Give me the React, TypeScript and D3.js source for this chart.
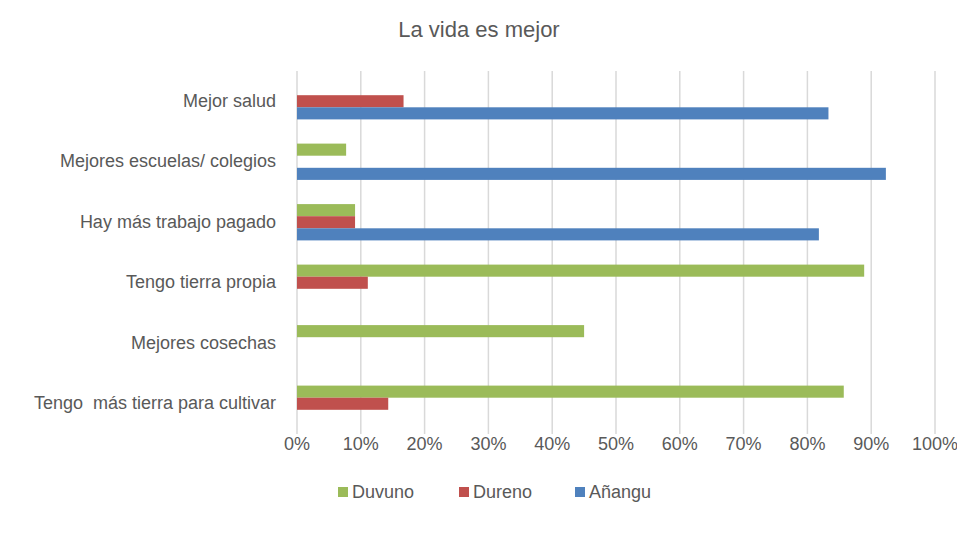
import React, { useEffect, useRef } from "react";
import * as d3 from "d3";

const categories = [
  "Mejor salud",
  "Mejores escuelas/ colegios",
  "Hay más trabajo pagado",
  "Tengo tierra propia",
  "Mejores cosechas",
  "Tengo  más tierra para cultivar",
];
const seriesNames = ["Duvuno", "Dureno", "Añangu"];
const seriesColors = ["#9bbb59", "#c0504d", "#4f81bd"];
// values in %, one array per series, same order as categories (null = no bar)
const duvuno = [null, 7.7, 9.1, 88.9, 45.0, 85.7];
const dureno = [16.7, null, 9.1, 11.1, null, 14.3];
const anangu = [83.3, 92.3, 81.8, null, null, null];
const xTicks = [0, 10, 20, 30, 40, 50, 60, 70, 80, 90, 100];

const FONT = "'Liberation Sans', Arial, sans-serif";

export default function App() {
  const ref = useRef<SVGSVGElement>(null);

  useEffect(() => {
    const W = 957,
      H = 533;
    const margin = { top: 71, right: 22, bottom: 99, left: 297 };
    const h = H - margin.top - margin.bottom;

    const svg = d3.select(ref.current);
    svg.selectAll("*").remove();
    svg
      .attr("width", W)
      .attr("height", H)
      .style("display", "block")
      .style("position", "absolute")
      .style("left", "0px")
      .style("top", "0px");

    svg.append("rect").attr("width", W).attr("height", H).attr("fill", "#fff");

    const g = svg.append("g").attr("transform", `translate(${margin.left},${margin.top})`);

    const x = d3.scaleLinear().domain([0, 100]).range([0, 638]);
    const y = d3
      .scaleBand()
      .domain(categories)
      .range([0, h])
      .paddingInner(0.4)
      .paddingOuter(0.2);
    const inner = d3.scaleBand().domain(seriesNames).range([0, y.bandwidth()]);

    // gridlines
    g.selectAll("line.grid")
      .data(xTicks)
      .join("line")
      .attr("class", "grid")
      .attr("x1", (d) => x(d))
      .attr("x2", (d) => x(d))
      .attr("y1", 0)
      .attr("y2", h)
      .attr("stroke", "#d9d9d9")
      .attr("stroke-width", 1.5);

    // tick labels
    g.selectAll("text.tick")
      .data(xTicks)
      .join("text")
      .attr("class", "tick")
      .attr("x", (d) => x(d))
      .attr("y", h + 16)
      .attr("text-anchor", "middle")
      .attr("fill", "#595959")
      .style("font-family", FONT)
      .style("font-size", "18px")
      .text((d) => d + "%");

    // category labels
    g.selectAll("text.cat")
      .data(categories)
      .join("text")
      .attr("class", "cat")
      .attr("x", -21)
      .attr("y", (d) => y(d)! + y.bandwidth() / 2 - 1)
      .attr("dy", "0.35em")
      .attr("text-anchor", "end")
      .attr("fill", "#595959")
      .style("font-family", FONT)
      .style("font-size", "18px")
      .style("white-space", "pre")
      .text((d) => d);

    const seriesData = [duvuno, dureno, anangu];
    seriesData.forEach((vals, si) => {
      const rows = categories
        .map((c, i) => ({ c, v: vals[i] }))
        .filter((d) => d.v != null) as { c: string; v: number }[];
      g.selectAll(`rect.s${si}`)
        .data(rows)
        .join("rect")
        .attr("class", `s${si}`)
        .attr("x", x(0))
        .attr("y", (d) => y(d.c)! + inner(seriesNames[si])!)
        .attr("width", (d) => x(d.v) - x(0))
        .attr("height", inner.bandwidth())
        .attr("fill", seriesColors[si]);
    });

    // title
    svg
      .append("text")
      .attr("x", 479)
      .attr("y", 37)
      .attr("text-anchor", "middle")
      .attr("fill", "#595959")
      .style("font-family", FONT)
      .style("font-size", "22px")
      .text("La vida es mejor");

    // legend
    const legendX = [338, 459, 575];
    const leg = svg
      .selectAll("g.leg")
      .data(seriesNames)
      .join("g")
      .attr("class", "leg")
      .attr("transform", (d, i) => `translate(${legendX[i]},492)`);
    leg
      .append("rect")
      .attr("x", 0)
      .attr("y", -5)
      .attr("width", 10)
      .attr("height", 10)
      .attr("fill", (d, i) => seriesColors[i]);
    leg
      .append("text")
      .attr("x", 14)
      .attr("y", 0)
      .attr("dy", "0.35em")
      .attr("fill", "#595959")
      .style("font-family", FONT)
      .style("font-size", "18px")
      .text((d) => d);
  }, []);

  return <svg ref={ref}></svg>;
}
